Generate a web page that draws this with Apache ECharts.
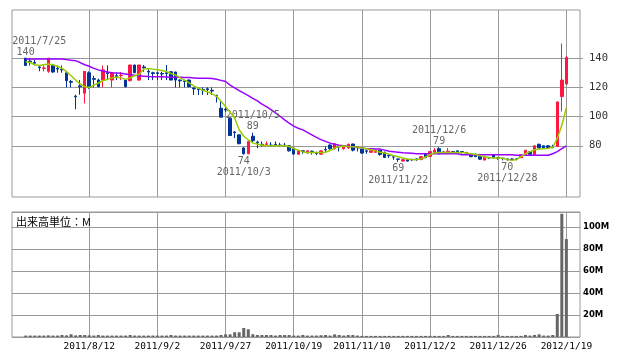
<!DOCTYPE html>
<html><head><meta charset="utf-8">
<script src="https://cdn.jsdelivr.net/npm/echarts@6/dist/echarts.min.js"></script>
<style>html,body{margin:0;padding:0;background:#fff}#c{width:638px;height:362px}</style>
</head><body><div id="c"></div>
<script>
const dates = [
'2011/7/25','2011/7/26','2011/7/27','2011/7/28','2011/7/29',
'2011/8/1','2011/8/2','2011/8/3','2011/8/4','2011/8/5',
'2011/8/8','2011/8/9','2011/8/10','2011/8/11','2011/8/12',
'2011/8/15','2011/8/16','2011/8/17','2011/8/18','2011/8/19',
'2011/8/22','2011/8/23','2011/8/24','2011/8/25','2011/8/26',
'2011/8/29','2011/8/30','2011/8/31','2011/9/1','2011/9/2',
'2011/9/5','2011/9/6','2011/9/7','2011/9/8','2011/9/9',
'2011/9/12','2011/9/13','2011/9/14','2011/9/15','2011/9/16',
'2011/9/20','2011/9/21','2011/9/22','2011/9/26','2011/9/27',
'2011/9/28','2011/9/29','2011/9/30','2011/10/3','2011/10/4',
'2011/10/5','2011/10/6','2011/10/7','2011/10/11','2011/10/12',
'2011/10/13','2011/10/14','2011/10/17','2011/10/18','2011/10/19',
'2011/10/20','2011/10/21','2011/10/24','2011/10/25','2011/10/26',
'2011/10/27','2011/10/28','2011/10/31','2011/11/1','2011/11/2',
'2011/11/4','2011/11/7','2011/11/8','2011/11/9','2011/11/10',
'2011/11/11','2011/11/14','2011/11/15','2011/11/16','2011/11/17',
'2011/11/18','2011/11/21','2011/11/22','2011/11/24','2011/11/25',
'2011/11/28','2011/11/29','2011/11/30','2011/12/1','2011/12/2',
'2011/12/5','2011/12/6','2011/12/7','2011/12/8','2011/12/9',
'2011/12/12','2011/12/13','2011/12/14','2011/12/15','2011/12/16',
'2011/12/19','2011/12/20','2011/12/21','2011/12/22','2011/12/26',
'2011/12/27','2011/12/28','2011/12/29','2011/12/30','2012/1/4',
'2012/1/5','2012/1/6','2012/1/10','2012/1/11','2012/1/12',
'2012/1/13','2012/1/16','2012/1/17','2012/1/18','2012/1/19'];

const opens = [
140,138,137,134,133,131,135,133,132.5,130,
124,114,121,116,130,126,125,125,130,125,
128,128,125,124.6,135.3,125,134,131,130,130,
129.5,130,130.7,130.5,125,124.5,125,119.5,119,118.5,
119,118,114.5,105.7,105,98.9,89.5,87.5,78.5,74.5,
86.5,82.5,81,81,80.5,81,80.5,80.5,80,78.4,
74.2,76.5,75,76.3,75,74.2,77.5,80.5,78,79.5,
78,78.5,81.2,79.3,77.7,76.5,75.5,75.5,77,75.5,
73.5,72.5,71,69.5,70.5,70.7,71,70.5,74.5,72.7,
74.8,78,75.8,75.5,76,76.5,76,74,74.5,74.3,
73,70.2,72,73.8,72,71.5,71,71,71,71.8,
74,76,74,81,80,80,79,79.5,113.7,122.3];
const closes = [
135,137.5,136.5,133.5,133.3,140,130.5,132.5,132,124.6,
123.5,113.5,120.5,131,120,125.5,120.5,132,129.5,130,
127.5,128.3,120.5,135.3,130,135.3,133.5,130.5,129.5,129.5,
129.2,129.5,125,125,124.5,124,120.5,119,118.5,118,
118.5,117.5,114,99.6,104.5,87,89,81.4,74.5,83,
83.5,82,80.5,81.3,80,80.7,80.2,80,76.5,74.3,
76.7,76.2,76.6,76,74.8,76.5,77.2,78,81.4,79.2,
79.5,81,77,79,75,76.2,77,77,74,72,
73.2,72.2,70.7,70.5,69.5,70.4,70.7,72.5,71.8,76,
77,74.5,75.5,76.3,75.5,75,75.8,75.5,72.5,72.5,
70.8,72,71.7,71.8,71.7,71.2,70.3,70.3,70.7,73.8,
77,74.2,80,78.5,78.5,78.7,78.7,110,125,140.5];
const lows = [
135,135,135,131,131,130,130,130,130,120,
120,105,115,109,119,120,120,120,125,120,
125,125,120,124,130,124.6,130.7,125,125,125,
125,125,125,120,120,120,120,114.8,114.8,114.8,
114.8,114.8,109.6,99.6,103,86.8,85.2,81,74,74.2,
82.5,78.4,79.5,80,79.5,80,79.5,79.5,76,74,
74,74.5,74.5,74,73.5,74,75.5,77.3,77.3,76.1,
77.3,77.7,76.1,76.1,74.5,74.5,75.3,75.3,73.2,71.6,
71.6,70.4,69,69.2,69.3,69.5,69.5,70.3,71.6,72.5,
74.5,74.3,74.5,74.5,74.5,74.5,74.5,73.9,72.3,72.3,
70.4,70,70.9,71.6,70.4,70,70,70,70,71.6,
73.9,73.9,73.9,78.4,78.4,78.4,78.4,79.5,103.5,122];
const highs = [
140,140,139,135,135,140,135.5,135,135,130.5,
125,115,125,131,131,128,126,135,135,130.5,
130,130.5,125.5,135.5,135.5,135.5,135.3,133,130.7,130.7,
130.7,135.3,131,130.7,125.5,125,125.5,120,120,120,
120,120,115,110.3,106.5,99,90,87.5,79,83,
89,83.5,83,83,82.5,83,82,82,80.5,78.5,
77,76.8,76.8,76.6,76,76.8,79.5,81,81.5,79.6,
79.8,81.5,81.4,79.5,77.8,77.3,77.3,77.3,77,76,
73.9,72.7,71,70.6,70.7,70.9,71.2,72.7,74.5,76.1,
78.4,79,76.1,78.4,76.1,76.6,76.1,75.6,74.6,74.5,
73.2,72.3,72.3,73.9,72.3,71.6,71,71.2,71.6,73.9,
77,76.1,80,81.5,80,80.2,80.7,110.3,150,141.5];
const volumes = [
1.3,1.3,1.3,1.3,1.3,1.5,1.3,1.3,1.8,1.5,
2.5,1.5,1.8,1.8,1.5,1.3,1.8,1.3,1.3,1.3,
1.3,1.3,1.3,1.8,1.3,1.3,1.3,1.3,1.3,1.3,
1.3,1.3,1.8,1.3,1.3,1.3,1.3,1.3,1.3,1.3,
1.3,1.3,1.3,1.8,2.4,2.4,4.3,4.3,8.2,7,
2.5,1.8,1.8,1.8,1.8,1.3,1.8,1.8,1.8,1.3,
1.3,1.8,1.3,1.3,1.3,1.6,1.8,1.3,2.4,1.8,
1.3,1.8,1.8,1.3,1,1,1,1,1,1,
1,1,1,1,1,1,1,1,1,1,
1,1,1,1.8,1,1,1,1,1,1,
1,1,1,1,1.8,1,1,1,1,1,
1.8,1.3,1.8,2.4,1.3,1.3,1.8,21,112,89];
const ma5 = [
137.5,137,135.5,135,135.5,136,135.5,134.5,133,130.8,
128,125,122.3,120.5,120,121.5,123,124.5,125.5,126.5,
127,126.5,125.5,126.5,128,129,132.5,133,132.5,132,
131.5,130.8,129.5,128.5,126.5,125,123,121,119.5,118,
117,115.5,114,110.5,106.8,103,98.9,91,86.5,84.1,
82,81,80.5,80,80,80,80,80,79.5,78,
77,75.8,75.4,75.4,75.4,75.4,75.6,76.8,78.2,79.5,
79.8,79.5,79.3,79.1,78.5,78,77.3,76.5,75.6,75,
74.2,73.2,72.5,71.6,70.9,70.6,70.4,71,72.3,74,
75,75.4,75.4,75.4,75.4,75.4,75.4,75,74.5,74,
73.2,72.5,71.8,71.6,71.6,71.4,70.5,70,70.5,72.5,
74.5,76,77.3,77.8,78,78.2,79,85,94,106];
const ma25 = [
139.5,139.5,139.5,139.5,139.5,139.5,139.5,139.5,139.5,139,
138.5,138.3,137,135.5,134.5,133,132,131.2,130.5,130,
129.8,129.6,129.2,128.7,128.3,128,127.7,127.4,127.3,127.3,
127.2,127.1,127,127,127,126.8,126.7,126.5,126.3,126.2,
126.2,126,125.5,124.8,124,121.6,119.6,117.8,116,114.3,
112.5,110.8,108.5,106.8,104.8,102.5,100.2,97.7,95.5,93.5,
92,90.9,89.2,87.5,85.8,84.2,83,81.8,81,80.3,
80,79.6,79.2,78.8,78.4,78,77.9,77.8,77.7,77,
76.2,75.9,75.6,75.2,75,74.8,74.5,74.5,74.5,74.5,
74.5,74.5,74.5,74.5,74.5,74.5,73.9,73.9,73.9,73.9,
73.9,73.9,73.9,73.9,73.9,73.9,73.9,73.9,73.5,73.5,
73.5,73.5,73.5,73.5,73.5,73.5,74.5,76,78,80];
const axisDates = ['2011/8/12','2011/9/2','2011/9/27','2011/10/19','2011/11/10','2011/12/2','2011/12/26','2012/1/19'];
const priceTicks = [80,100,120,140];
const annDates = ['2011/7/25','2011/10/3','2011/10/5','2011/11/22','2011/12/6','2011/12/28'];
const annValues = [140,74,89,69,79,70];
const annKinds = ['high','low','high','low','high','low'];

const pads0 = ['_p1','_p2','_p3'], pads1 = ['_q1','_q2','_q3'];
const cats = pads0.concat(dates, pads1);
const isGrid = (i, v) => axisDates.indexOf(v) >= 0;
const RED = '#ff1744', BLUE = '#003399', GRID = '#999999';
const monoFont = 'DejaVu Sans Mono';

const mp = [];
annDates.forEach((d, k) => {
  const v = annValues[k];
  if (annKinds[k] === 'high') {
    if (k === 0) {
      mp.push({coord: [d, v], label: {formatter: String(v), position: 'top', distance: 0}});
      mp.push({coord: [d, v], label: {formatter: d, position: 'top', distance: 11, align: 'left', offset: [-13.5, 0]}});
    } else {
      mp.push({coord: [d, v], label: {formatter: d + '\n' + v, position: 'top', distance: 0}});
    }
  } else {
    mp.push({coord: [d, v], label: {formatter: v + '\n' + d, position: 'bottom', distance: 1}});
  }
});

const chart = echarts.init(document.getElementById('c'), null, {renderer: 'canvas'});
chart.setOption({
  animation: false,
  backgroundColor: '#fff',
  title: {text: '出来高単位：M', left: 16, top: 216, padding: 0,
    textStyle: {fontSize: 11, fontWeight: 'normal', color: '#000', fontFamily: 'Noto Sans CJK JP'}},
  grid: [
    {left: 12, right: 58, top: 10, height: 187, show: true, borderColor: GRID, borderWidth: 1},
    {left: 12, right: 58, top: 212, height: 125, show: true, borderColor: GRID, borderWidth: 1}
  ],
  xAxis: [
    {type: 'category', gridIndex: 0, data: cats, boundaryGap: false,
      axisLine: {show: false}, axisTick: {show: false}, axisLabel: {show: false},
      splitLine: {show: true, interval: isGrid, lineStyle: {color: GRID, width: 1}}},
    {type: 'category', gridIndex: 1, data: cats, boundaryGap: false,
      axisLine: {show: false}, axisTick: {show: false},
      axisLabel: {show: true, interval: isGrid, color: '#000', fontSize: 9.5, fontFamily: monoFont, margin: 5},
      splitLine: {show: true, interval: isGrid, lineStyle: {color: GRID, width: 1}}}
  ],
  yAxis: [
    {type: 'value', gridIndex: 0, position: 'right', min: 44.9, max: 173, scale: true,
      axisLine: {show: false},
      axisTick: {show: true, length: 3, customValues: priceTicks, lineStyle: {color: GRID}},
      axisLabel: {show: true, customValues: priceTicks, color: '#333', fontSize: 10.5, fontFamily: monoFont, margin: 9},
      splitLine: {show: true, lineStyle: {color: GRID, width: 1}}},
    {type: 'value', gridIndex: 1, position: 'right', min: 0, max: 113.6, interval: 20,
      axisLine: {show: false}, axisTick: {show: false},
      axisLabel: {show: true, color: '#000', fontSize: 8.5, fontWeight: 'bold', fontFamily: 'DejaVu Sans', margin: 3,
        formatter: v => (v > 0 && v <= 100 && v % 20 === 0) ? v + 'M' : ''},
      splitLine: {show: true, lineStyle: {color: GRID, width: 1}}}
  ],
  series: [
    {type: 'candlestick', xAxisIndex: 0, yAxisIndex: 0, barWidth: 3,
      encode: {x: 0, y: [1, 2, 3, 4]},
      data: dates.map((d, i) => [d, opens[i], closes[i], lows[i], highs[i]]),
      itemStyle: {color: RED, color0: BLUE, borderColor: RED, borderColor0: BLUE, borderWidth: 1},
      markPoint: {symbol: 'rect', symbolSize: 0, silent: true, itemStyle: {color: 'transparent'},
        label: {show: true, color: '#666', fontSize: 10, fontFamily: monoFont, lineHeight: 11.5},
        data: mp}},
    {type: 'line', xAxisIndex: 0, yAxisIndex: 0, showSymbol: false, symbol: 'none', z: 5,
      data: dates.map((d, i) => [d, ma5[i]]), lineStyle: {color: '#99cc00', width: 1.5}},
    {type: 'line', xAxisIndex: 0, yAxisIndex: 0, showSymbol: false, symbol: 'none', z: 4,
      data: dates.map((d, i) => [d, ma25[i]]), lineStyle: {color: '#9900ff', width: 1.5}},
    {type: 'bar', xAxisIndex: 1, yAxisIndex: 1, barWidth: 3,
      data: dates.map((d, i) => [d, volumes[i]]), itemStyle: {color: '#666666'}}
  ]
});
</script></body></html>
